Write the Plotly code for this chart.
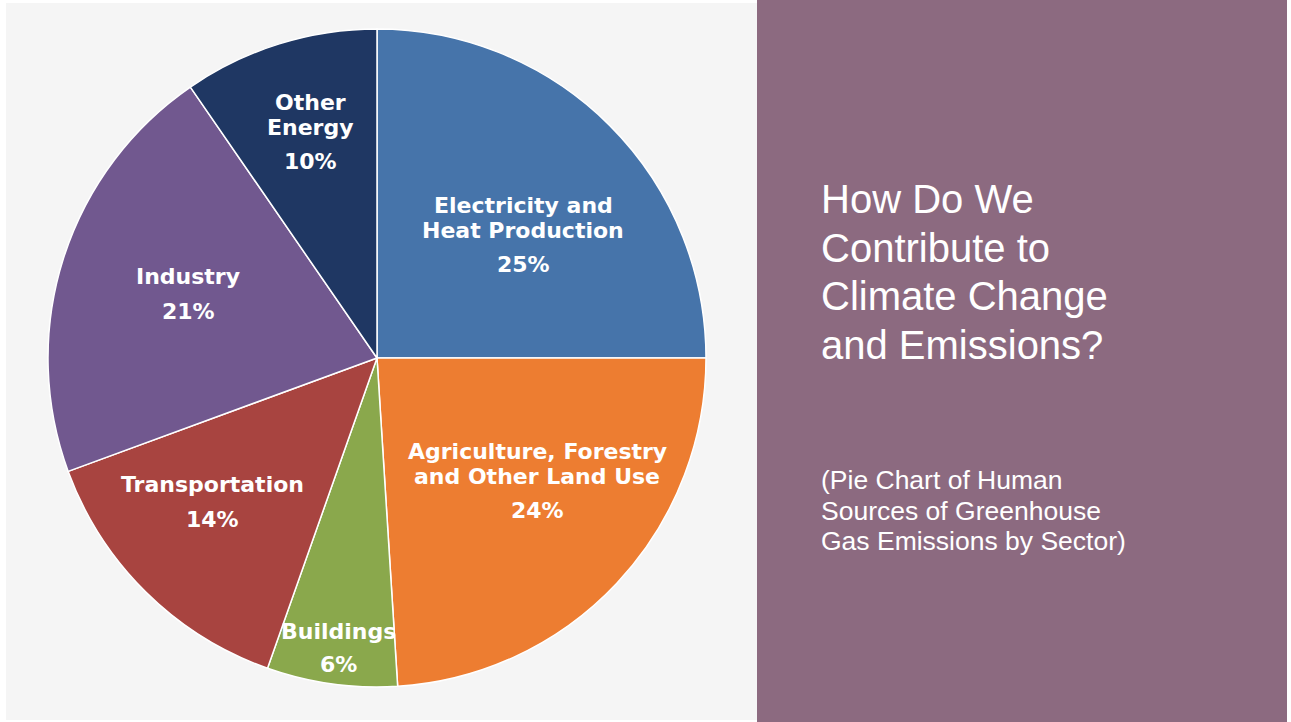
import plotly.graph_objects as go

# Sector shares of human greenhouse gas emissions (percent)
sectors = [
    "Electricity and<br>Heat Production",
    "Agriculture, Forestry<br>and Other Land Use",
    "Buildings",
    "Transportation",
    "Industry",
    "Other<br>Energy",
]
shares = [25, 24, 6.4, 14, 21, 9.6]
colors = ["#4674aa", "#ed7d31", "#8aa84c", "#a84440", "#71588f", "#1f3763"]

title_lines = ["How Do We", "Contribute to", "Climate Change", "and Emissions?"]
subtitle_lines = ["(Pie Chart of Human", "Sources of Greenhouse", "Gas Emissions by Sector)"]

W, H = 1291, 722
cx, cy, r = 377, 358, 329

# label placement in pixels: (x centre, y of first name line, y of percent line)
label_pos = [
    (523, 205, 265),
    (537, 451, 510),
    (338, 631, 664),
    (212, 484, 519),
    (188, 276, 311),
    (310, 103, 162),
]
line_step = 25


def px(x):
    return x / W


def py(y):
    return 1 - y / H


fig = go.Figure()
fig.add_trace(go.Pie(
    labels=[s.replace("<br>", " ") for s in sectors],
    values=shares,
    sort=False,
    direction="clockwise",
    rotation=0,
    marker=dict(colors=colors, line=dict(color="#ffffff", width=1.5)),
    textinfo="none",
    hoverinfo="label+percent",
    showlegend=False,
    domain=dict(x=[px(cx - r), px(cx + r)], y=[py(cy + r), py(cy - r)]),
))

annotations = []
label_font = dict(family="DejaVu Sans", size=22, color="#ffffff", weight="bold")
for name, val, (lx, ly_name, ly_pct) in zip(sectors, shares, label_pos):
    for j, part in enumerate(name.split("<br>")):
        annotations.append(dict(
            x=px(lx), y=py(ly_name + j * line_step), xref="paper", yref="paper",
            text=part, showarrow=False, font=label_font,
            xanchor="center", yanchor="middle",
        ))
    annotations.append(dict(
        x=px(lx), y=py(ly_pct), xref="paper", yref="paper",
        text=f"{val:.0f}%", showarrow=False, font=label_font,
        xanchor="center", yanchor="middle",
    ))

title_font = dict(family="Liberation Sans, Arial", size=40, color="#ffffff")
for i, line in enumerate(title_lines):
    annotations.append(dict(
        x=px(819), y=py(199 + i * 48.5), xref="paper", yref="paper",
        text=line, showarrow=False, font=title_font,
        xanchor="left", yanchor="middle",
    ))

sub_font = dict(family="Liberation Sans, Arial", size=26.5, color="#ffffff")
for i, line in enumerate(subtitle_lines):
    annotations.append(dict(
        x=px(819), y=py(480 + i * 30.5), xref="paper", yref="paper",
        text=line, showarrow=False, font=sub_font,
        xanchor="left", yanchor="middle",
    ))

shapes = [
    dict(type="rect", xref="paper", yref="paper", layer="below",
         x0=px(6), x1=px(757), y0=py(720), y1=py(3),
         fillcolor="#f5f5f5", line=dict(width=0)),
    dict(type="rect", xref="paper", yref="paper", layer="below",
         x0=px(757), x1=px(1287), y0=py(722), y1=py(0),
         fillcolor="#8c6a80", line=dict(width=0)),
]

fig.update_layout(
    width=W, height=H,
    margin=dict(l=0, r=0, t=0, b=0),
    paper_bgcolor="#ffffff",
    plot_bgcolor="#ffffff",
    shapes=shapes,
    annotations=annotations,
)

fig.write_html("out.html", config={"displayModeBar": False})
